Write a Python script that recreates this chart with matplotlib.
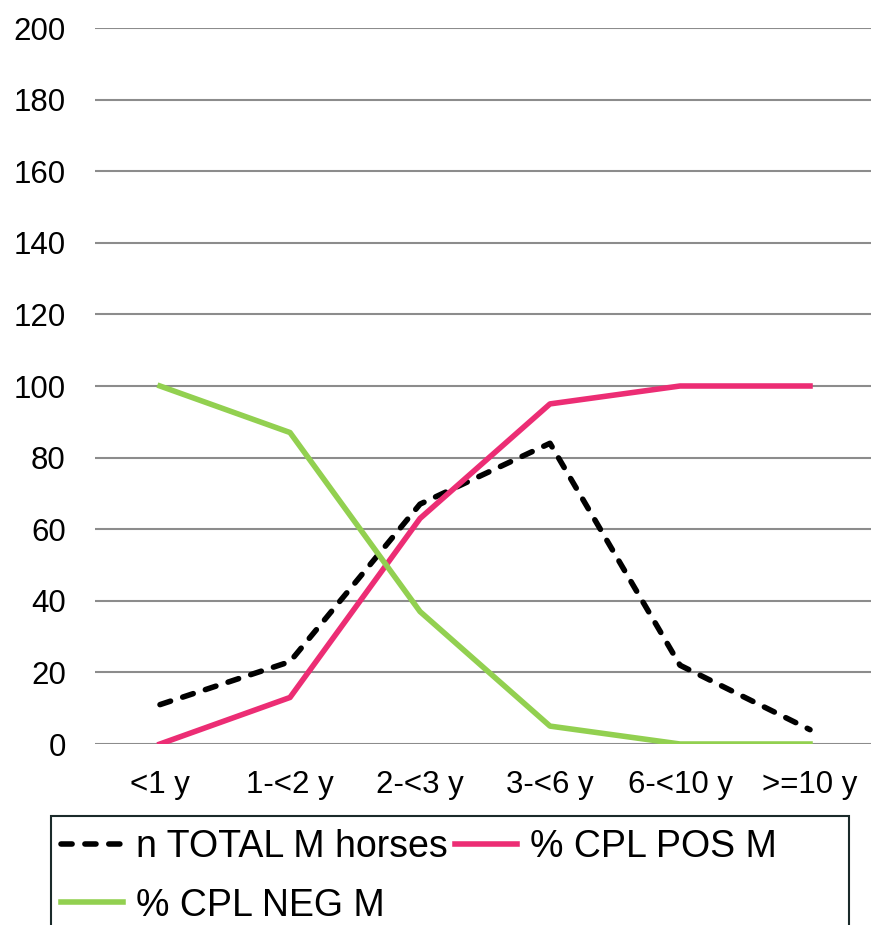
import matplotlib
matplotlib.use("Agg")
import matplotlib.pyplot as plt
from matplotlib.patches import Rectangle

plt.rcParams['font.family'] = ['Liberation Sans', 'DejaVu Sans']

categories = ["<1 y", "1-<2 y", "2-<3 y", "3-<6 y", "6-<10 y", ">=10 y"]
n_total = [11, 23, 67, 84, 22, 4]
cpl_pos = [0, 13, 63, 95, 100, 100]
cpl_neg = [100, 87, 37, 5, 0, 0]

W, H = 871, 925
fig = plt.figure(figsize=(W / 100, H / 100), dpi=100)
ax = fig.add_axes([95 / W, (H - 744) / H, 780 / W, 716 / H])

x = range(len(categories))
l1, = ax.plot(x, n_total, color="black", lw=4.0, linestyle=(0, (2.0, 2.3)),
              dash_capstyle="round", dash_joinstyle="round",
              label="n TOTAL M horses", zorder=3)
l2, = ax.plot(x, cpl_pos, color="#EC2D74", lw=4.0, solid_joinstyle="round",
              label="% CPL POS M", zorder=3)
l3, = ax.plot(x, cpl_neg, color="#92D050", lw=4.0, solid_joinstyle="round",
              label="% CPL NEG M", zorder=3)

ax.set_xlim(-0.5, 5.5)
ax.set_ylim(0, 200)
ax.set_yticks(range(0, 201, 20))
ax.set_xticks(list(x))
ax.set_xticklabels(categories)
ax.tick_params(axis="both", length=0, labelsize=22.5)
ax.tick_params(axis="y", pad=21)
ax.tick_params(axis="x", pad=19)
ax.grid(axis="y", color="#8c8c8c", lw=1.5)
ax.set_axisbelow(True)
for s in ax.spines.values():
    s.set_visible(False)

# legend frame drawn by hand, it runs past the bottom edge
fig.patches.append(Rectangle((51 / W, -0.05), (849 - 51) / W, (H - 816) / H + 0.05,
                             transform=fig.transFigure, fill=False,
                             edgecolor="#1a2a2a", lw=1.5))
fig.legend(handles=[l1, l3, l2], ncol=2, loc="upper left",
           bbox_to_anchor=(61 / W, 1 - 829 / H), frameon=False,
           fontsize=27, handlelength=1.65, handletextpad=0.35,
           columnspacing=0.2, borderpad=0.0, borderaxespad=0,
           labelspacing=0.6)

fig.savefig("out.png", dpi=100)
